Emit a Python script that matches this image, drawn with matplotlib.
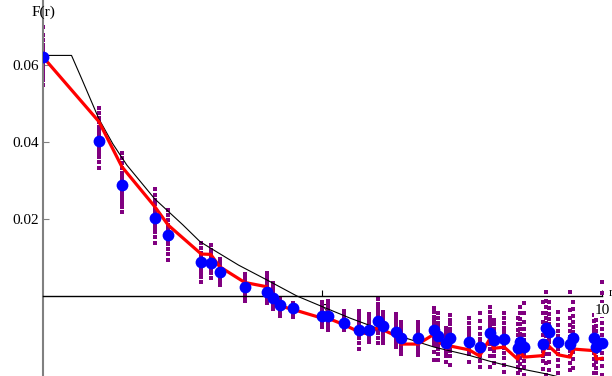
import matplotlib
matplotlib.use("Agg")
import matplotlib.pyplot as plt

plt.rcParams['font.family'] = ['Liberation Serif', 'DejaVu Serif']

# lattice distances r
r = [0.0, 1.0, 1.41, 2.0, 2.24, 2.83, 3.0, 3.16, 3.61, 4.0, 4.12, 4.24, 4.47,
     5.0, 5.10, 5.39, 5.66, 5.83, 6.0, 6.08, 6.32, 6.40, 6.71, 7.0, 7.07, 7.21,
     7.28, 7.62, 7.81, 8.0, 8.06, 8.25, 8.49, 8.54, 8.60, 8.94, 9.0, 9.06, 9.22,
     9.43, 9.49, 9.85, 9.90, 10.0]

# mean values (blue), units of 1e-3
blue = [62.1, 40.3, 28.9, 20.3, 15.8, 8.8, 8.6, 6.2, 2.2, 1.0, -0.6, -2.3, -3.2,
        -5.1, -5.1, -7.0, -8.8, -8.8, -6.6, -7.8, -9.4, -10.8, -11.0, -8.8, -10.5, -12.3,
        -11.0, -11.9, -13.2, -9.5, -11.4, -11.2, -13.6, -11.9, -13.2, -12.5, -8.4, -9.3, -11.9,
        -12.5, -10.8, -11.0, -13.2, -12.3]

# model values (red line), units of 1e-3
red = [62.1, 45.3, 33.6, 23.2, 18.4, 10.9, 10.8, 7.6, 3.5, 2.4, -0.5, -2.6, -3.5,
       -5.8, -5.8, -7.5, -9.4, -9.9, -8.0, -8.8, -10.4, -12.5, -12.5, -9.9, -11.6, -13.6,
       -13.0, -14.0, -15.6, -11.0, -13.6, -13.3, -16.4, -14.5, -15.9, -15.5, -11.9, -13.2, -15.3,
       -15.9, -13.8, -14.2, -16.4, -16.2]

# individual samples (purple), units of 1e-3, one list per r
samples = [
    [69.9, 67.8, 66.5, 65.2, 64.3, 63.5, 62.8, 61.8, 60.9, 60.0, 59.0, 58.0, 57.0, 56.0, 54.8],
    [48.8, 47.5, 46.3, 45.2, 44.0, 43.0, 42.0, 41.0, 40.0, 39.0, 38.0, 37.0, 36.0, 34.8, 33.2],
    [37.1, 35.8, 34.5, 33.2, 32.0, 31.0, 30.0, 29.0, 28.0, 27.0, 26.0, 25.0, 24.0, 23.0, 21.8],
    [27.8, 26.3, 25.0, 23.8, 22.5, 21.5, 20.8, 20.0, 19.2, 18.5, 17.5, 16.5, 15.2, 13.8],
    [22.3, 21.0, 19.8, 18.5, 17.5, 16.5, 15.8, 15.0, 14.2, 13.5, 12.2, 11.0, 9.3],
    [13.8, 12.5, 11.2, 10.2, 9.5, 8.8, 8.2, 7.5, 6.8, 6.0, 5.0, 3.6],
    [13.2, 12.0, 10.8, 10.0, 9.3, 8.7, 8.1, 7.5, 6.8, 6.0, 4.7],
    [9.6, 8.8, 8.0, 7.3, 6.7, 6.2, 5.7, 5.2, 4.6, 3.9, 2.9],
    [5.7, 4.8, 4.0, 3.3, 2.7, 2.2, 1.7, 1.1, 0.5, -0.3, -1.3],
    [6.0, 4.8, 3.8, 2.8, 2.0, 1.3, 0.8, 0.2, -0.4, -1.0, -1.8],
    [3.4, 2.4, 1.5, 0.8, 0.1, -0.5, -1.0, -1.6, -2.2, -2.8, -3.4],
    [-0.5, -1.0, -1.5, -2.0, -2.4, -2.8, -3.3, -3.8, -4.4, -5.2],
    [-1.8, -2.2, -2.6, -3.0, -3.3, -3.6, -4.0, -4.5, -5.0, -5.5],
    [-1.6, -2.5, -3.3, -4.0, -4.6, -5.1, -5.6, -6.2, -6.8, -7.4, -8.1],
    [-1.3, -2.3, -3.2, -4.0, -4.6, -5.2, -5.8, -6.4, -7.0, -7.8, -8.8],
    [-3.9, -4.6, -5.3, -5.9, -6.5, -7.0, -7.5, -8.1, -8.8],
    [-3.9, -5.0, -6.0, -7.0, -7.8, -8.6, -9.3, -10.1, -11.0, -12.2, -13.8],
    [-4.7, -5.7, -6.6, -7.4, -8.2, -8.9, -9.6, -10.4, -11.1, -11.9],
    [-0.8, -2.0, -3.2, -4.2, -5.1, -6.0, -6.8, -7.6, -8.5, -9.5, -10.8, -12.2],
    [-4.2, -5.2, -6.0, -6.8, -7.5, -8.2, -8.9, -9.7, -10.6, -11.4, -12.2],
    [-4.7, -5.8, -6.8, -7.7, -8.5, -9.3, -10.1, -10.9, -11.7, -12.5, -13.2],
    [-6.8, -7.8, -8.7, -9.5, -10.3, -11.0, -11.7, -12.5, -13.3, -14.2, -15.1],
    [-6.8, -7.8, -8.8, -9.6, -10.4, -11.1, -11.8, -12.6, -13.4, -14.3, -15.3],
    [-3.1, -4.3, -5.4, -6.4, -7.3, -8.1, -8.9, -9.7, -10.6, -11.6, -12.8, -14.5, -16.6],
    [-4.4, -5.8, -7.0, -8.1, -9.1, -10.0, -10.9, -11.8, -12.8, -13.9, -15.2, -16.6],
    [-8.3, -9.4, -10.4, -11.3, -12.1, -12.9, -13.7, -14.6, -15.6, -17.1],
    [-4.9, -6.2, -7.4, -8.5, -9.5, -10.5, -11.4, -12.3, -13.3, -14.4, -15.7, -17.9],
    [-5.7, -7.0, -8.2, -9.3, -10.3, -11.3, -12.2, -13.1, -14.1, -15.2, -17.1],
    [-4.4, -6.5, -8.3, -9.8, -11.1, -12.3, -13.4, -14.5, -15.6, -16.9, -18.4],
    [-2.9, -4.2, -5.5, -6.6, -7.6, -8.6, -9.5, -10.4, -11.4, -12.5, -13.8, -15.5, -18.4],
    [-6.2, -7.4, -8.5, -9.5, -10.4, -11.3, -12.2, -13.2, -14.3, -15.7, -17.4],
    [-4.4, -5.8, -7.1, -8.3, -9.4, -10.4, -11.4, -12.4, -13.5, -14.7, -16.2, -17.9, -19.7],
    [-5.7, -7.4, -8.9, -10.2, -11.4, -12.5, -13.6, -14.7, -15.8, -17.0, -18.4, -20.0],
    [-2.9, -4.5, -6.0, -7.4, -8.7, -9.9, -11.0, -12.1, -13.3, -14.6, -16.0, -17.6, -19.2],
    [-1.8, -4.5, -6.8, -8.6, -10.1, -11.5, -12.8, -14.1, -15.4, -16.8, -18.5, -20.5],
    [-1.6, -4.5, -6.8, -8.6, -10.2, -11.6, -12.9, -14.2, -15.5, -17.0, -19.0],
    [1.0, -1.3, -3.0, -4.5, -5.8, -7.0, -8.2, -9.3, -10.5, -11.8, -13.2, -15.0, -17.5, -20.5],
    [-1.6, -3.2, -4.7, -6.0, -7.3, -8.5, -9.6, -10.8, -12.0, -13.4, -15.2, -17.2, -19.2],
    [-4.2, -6.0, -7.6, -9.0, -10.3, -11.5, -12.7, -13.9, -15.2, -16.7, -18.2, -20.0],
    [1.0, -3.6, -5.8, -7.6, -9.2, -10.6, -11.9, -13.1, -14.3, -15.6, -17.3, -19.2],
    [-1.6, -3.5, -5.2, -6.7, -8.0, -9.3, -10.5, -11.7, -13.0, -14.5, -16.4, -18.7],
    [-4.9, -6.6, -8.0, -9.2, -10.3, -11.3, -12.3, -13.4, -14.7, -16.3, -18.0, -20.0],
    [-6.2, -7.8, -9.2, -10.4, -11.5, -12.5, -13.5, -14.6, -15.8, -17.2, -18.6, -20.0],
    [3.6, 0.8, -1.5, -3.5, -5.3, -7.0, -8.6, -10.1, -11.6, -13.1, -14.7, -16.4, -18.3, -20.5],
]

# reference curve (black)
curve_r = [0.0, 0.51, 0.69, 1.0, 1.25, 1.5, 2.0, 2.5, 2.81, 3.0, 3.5, 4.0, 4.54,
           5.0, 5.5, 6.0, 6.5, 7.0, 7.64, 8.0, 8.5, 9.02, 9.5]
curve_f = [62.5, 62.5, 56.5, 46.0, 39.5, 34.0, 25.2, 18.5, 14.1, 12.4, 8.0, 4.2, 0.0,
           -2.8, -5.8, -8.5, -11.0, -13.3, -15.5, -17.0, -18.8, -20.3, -22.0]

s = 1e-3

fig = plt.figure(figsize=(6.12, 3.76), dpi=100)
ax = fig.add_axes([43 / 612, 0, 569 / 612, 1])

for x, col in zip(r, samples):
    ax.plot([x] * len(col), [v * s for v in col], 's', color='#800080',
            markersize=2.6, markeredgewidth=0, zorder=2)

ax.plot(curve_r, [v * s for v in curve_f], color='black', lw=0.8, zorder=3)
ax.plot(r, [v * s for v in red], color='red', lw=2.3, zorder=4)
ax.plot(r, [v * s for v in blue], 'o', color='#0000ff', markersize=8.5,
        markeredgewidth=0, zorder=5)

ax.set_xlim(0, 569 / 55.9)
ax.set_ylim(-0.0208, 0.0769)

ax.spines['top'].set_visible(False)
ax.spines['right'].set_visible(False)
ax.spines['left'].set_color('#808080')
ax.spines['left'].set_linewidth(1.5)
ax.spines['bottom'].set_position(('data', 0))
ax.spines['bottom'].set_bounds(0, 10)
ax.spines['bottom'].set_linewidth(1.0)
ax.set_axisbelow(True)

ax.set_xticks([5, 10])
ax.set_xticklabels(['5', ''])
ax.set_yticks([0.02, 0.04, 0.06])
ax.set_yticklabels(['0.02', '0.04', '0.06'])
ax.tick_params(direction='in', length=4, width=0.8, labelsize=11, pad=3)
ax.tick_params(axis='x', pad=6)
ax.tick_params(axis='y', colors='#808080', labelcolor='black')

# "10" label sits on top of the data, as in the original
ax.text(10, -0.0020, '10', ha='center', va='top', fontsize=11, zorder=6,
        bbox=dict(facecolor='white', edgecolor='none', pad=0.3))

fig.text(43 / 612, 1 - 12 / 376, 'F(r)', ha='center', va='center', fontsize=11)
fig.text(609 / 612, 1 - 299 / 376, 'r', ha='left', va='bottom', fontsize=9)

fig.savefig('out.png', dpi=100)
